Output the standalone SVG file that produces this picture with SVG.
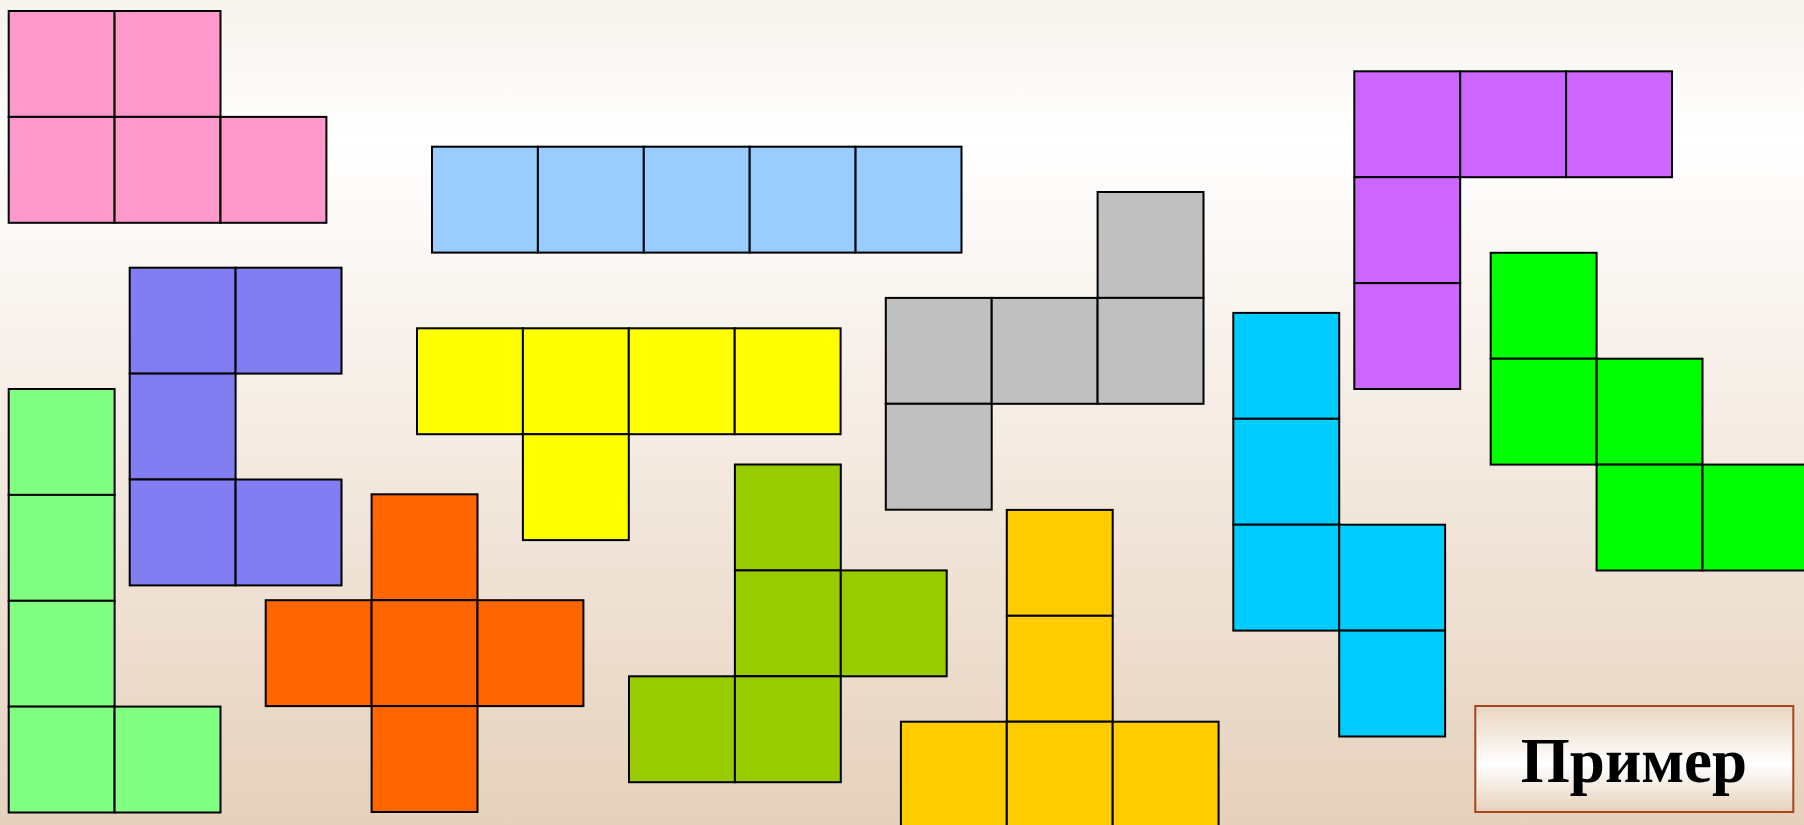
<svg xmlns="http://www.w3.org/2000/svg" width="1804" height="825" viewBox="0 0 1804 825">
  <defs>
    <linearGradient id="bg" x1="0" y1="0" x2="0" y2="1">
      <stop offset="0" stop-color="#f7f3ed"/>
      <stop offset="0.17" stop-color="#ffffff"/>
      <stop offset="1" stop-color="#e6d1bc"/>
    </linearGradient>
    <linearGradient id="boxg" x1="0" y1="0" x2="0" y2="1">
      <stop offset="0" stop-color="#e9d5c1"/>
      <stop offset="0.55" stop-color="#ffffff"/>
      <stop offset="1" stop-color="#e6d1bc"/>
    </linearGradient>
  </defs>
  <style>
    rect.c { stroke: #000; stroke-width: 2; width: 105.9px; height: 105.9px; }
    .pink rect { fill: #ff99cc; }
    .lblue rect { fill: #99ccff; }
    .pblue rect { fill: #837df2; }
    .lgreen rect { fill: #80ff80; }
    .yellow rect { fill: #ffff00; }
    .orange rect { fill: #ff6600; }
    .olive rect { fill: #99cc00; }
    .gray rect { fill: #c0c0c0; }
    .gold rect { fill: #ffcc00; }
    .cyan rect { fill: #00ccff; }
    .violet rect { fill: #cc66ff; }
    .green rect { fill: #00ff00; }
    .label { font-family: "Liberation Serif", "Times New Roman", serif; font-weight: bold; font-size: 63px; fill: #000; text-anchor: middle; }
  </style>
  <rect x="0" y="0" width="1804" height="825" fill="url(#bg)"/>

  <g id="piece-pink" class="pink">
    <rect class="c" x="8.7" y="11" width="105.9" height="105.9"/>
    <rect class="c" x="114.6" y="11" width="105.9" height="105.9"/>
    <rect class="c" x="8.7" y="116.9" width="105.9" height="105.9"/>
    <rect class="c" x="114.6" y="116.9" width="105.9" height="105.9"/>
    <rect class="c" x="220.5" y="116.9" width="105.9" height="105.9"/>
  </g>

  <g id="piece-lightblue" class="lblue">
    <rect class="c" x="432" y="146.7" width="105.9" height="105.9"/>
    <rect class="c" x="537.9" y="146.7" width="105.9" height="105.9"/>
    <rect class="c" x="643.8" y="146.7" width="105.9" height="105.9"/>
    <rect class="c" x="749.7" y="146.7" width="105.9" height="105.9"/>
    <rect class="c" x="855.6" y="146.7" width="105.9" height="105.9"/>
  </g>

  <g id="piece-blue" class="pblue">
    <rect class="c" x="129.7" y="267.7" width="105.9" height="105.9"/>
    <rect class="c" x="235.6" y="267.7" width="105.9" height="105.9"/>
    <rect class="c" x="129.7" y="373.6" width="105.9" height="105.9"/>
    <rect class="c" x="129.7" y="479.5" width="105.9" height="105.9"/>
    <rect class="c" x="235.6" y="479.5" width="105.9" height="105.9"/>
  </g>

  <g id="piece-lightgreen" class="lgreen">
    <rect class="c" x="8.7" y="389" width="105.9" height="105.9"/>
    <rect class="c" x="8.7" y="494.9" width="105.9" height="105.9"/>
    <rect class="c" x="8.7" y="600.8" width="105.9" height="105.9"/>
    <rect class="c" x="8.7" y="706.6" width="105.9" height="105.9"/>
    <rect class="c" x="114.6" y="706.6" width="105.9" height="105.9"/>
  </g>

  <g id="piece-yellow" class="yellow">
    <rect class="c" x="417" y="328.3" width="105.9" height="105.9"/>
    <rect class="c" x="522.9" y="328.3" width="105.9" height="105.9"/>
    <rect class="c" x="628.8" y="328.3" width="105.9" height="105.9"/>
    <rect class="c" x="734.7" y="328.3" width="105.9" height="105.9"/>
    <rect class="c" x="522.9" y="434.2" width="105.9" height="105.9"/>
  </g>

  <g id="piece-orange" class="orange">
    <rect class="c" x="371.6" y="494.3" width="105.9" height="105.9"/>
    <rect class="c" x="265.7" y="600.2" width="105.9" height="105.9"/>
    <rect class="c" x="371.6" y="600.2" width="105.9" height="105.9"/>
    <rect class="c" x="477.5" y="600.2" width="105.9" height="105.9"/>
    <rect class="c" x="371.6" y="706.1" width="105.9" height="105.9"/>
  </g>

  <g id="piece-olive" class="olive">
    <rect class="c" x="734.9" y="464.5" width="105.9" height="105.9"/>
    <rect class="c" x="734.9" y="570.4" width="105.9" height="105.9"/>
    <rect class="c" x="840.8" y="570.4" width="105.9" height="105.9"/>
    <rect class="c" x="629" y="676.3" width="105.9" height="105.9"/>
    <rect class="c" x="734.9" y="676.3" width="105.9" height="105.9"/>
  </g>

  <g id="piece-gray" class="gray">
    <rect class="c" x="1097.6" y="192" width="105.9" height="105.9"/>
    <rect class="c" x="885.8" y="297.9" width="105.9" height="105.9"/>
    <rect class="c" x="991.7" y="297.9" width="105.9" height="105.9"/>
    <rect class="c" x="1097.6" y="297.9" width="105.9" height="105.9"/>
    <rect class="c" x="885.8" y="403.8" width="105.9" height="105.9"/>
  </g>

  <g id="piece-gold" class="gold">
    <rect class="c" x="1006.8" y="509.9" width="105.9" height="105.9"/>
    <rect class="c" x="1006.8" y="615.8" width="105.9" height="105.9"/>
    <rect class="c" x="900.9" y="721.7" width="105.9" height="105.9"/>
    <rect class="c" x="1006.8" y="721.7" width="105.9" height="105.9"/>
    <rect class="c" x="1112.7" y="721.7" width="105.9" height="105.9"/>
  </g>

  <g id="piece-cyan" class="cyan">
    <rect class="c" x="1233.3" y="312.9" width="105.9" height="105.9"/>
    <rect class="c" x="1233.3" y="418.8" width="105.9" height="105.9"/>
    <rect class="c" x="1233.3" y="524.7" width="105.9" height="105.9"/>
    <rect class="c" x="1339.2" y="524.7" width="105.9" height="105.9"/>
    <rect class="c" x="1339.2" y="630.6" width="105.9" height="105.9"/>
  </g>

  <g id="piece-violet" class="violet">
    <rect class="c" x="1354.3" y="71.3" width="105.9" height="105.9"/>
    <rect class="c" x="1460.2" y="71.3" width="105.9" height="105.9"/>
    <rect class="c" x="1566.1" y="71.3" width="105.9" height="105.9"/>
    <rect class="c" x="1354.3" y="177.2" width="105.9" height="105.9"/>
    <rect class="c" x="1354.3" y="283.1" width="105.9" height="105.9"/>
  </g>

  <g id="piece-green" class="green">
    <rect class="c" x="1490.7" y="252.8" width="105.9" height="105.9"/>
    <rect class="c" x="1490.7" y="358.7" width="105.9" height="105.9"/>
    <rect class="c" x="1596.6" y="358.7" width="105.9" height="105.9"/>
    <rect class="c" x="1596.6" y="464.6" width="105.9" height="105.9"/>
    <rect class="c" x="1702.5" y="464.6" width="105.9" height="105.9"/>
  </g>

  <g id="example-button">
    <rect x="1475.3" y="706" width="318" height="106" fill="url(#boxg)" stroke="#a5461f" stroke-width="2"/>
    <text class="label" x="1634" y="781.5">Пример</text>
  </g>
</svg>
